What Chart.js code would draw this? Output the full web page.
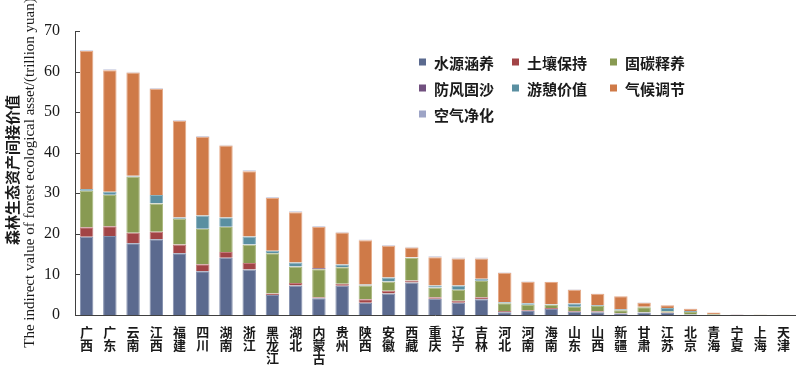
<!DOCTYPE html>
<html><head><meta charset="utf-8">
<script src="https://cdn.jsdelivr.net/npm/chart.js@4/dist/chart.umd.min.js"></script>
<style>html,body{margin:0;padding:0;background:#fff}</style>
</head><body>
<canvas id="c" width="800" height="370" style="width:800px;height:370px;display:block"></canvas>
<script>
const categories = ['广西','广东','云南','江西','福建','四川','湖南','浙江','黑龙江','湖北','内蒙古','贵州','陕西','安徽','西藏','重庆','辽宁','吉林','河北','河南','海南','山东','山西','新疆','甘肃','江苏','北京','青海','宁夏','上海','天津'];
const seriesNames = ['水源涵养','土壤保持','固碳释养','防风固沙','游憩价值','气候调节','空气净化'];
const water   = [19.3,19.5,17.7,18.7,15.2,10.8,14.1,11.2,4.9,7.3,4.1,7.2,3.0,5.3,8.0,4.0,3.0,3.9,0.7,1.0,1.5,0.8,0.7,0.4,0.6,0.5,0.1,0.05,0.03,0.02,0.02];
const soil    = [2.3,2.4,2.6,1.8,2.2,1.7,1.4,1.6,0.4,0.6,0.3,0.5,0.9,0.7,0.5,0.4,0.5,0.5,0.3,0.2,0.2,0.2,0.2,0.1,0.1,0.1,0.05,0.02,0.01,0.01,0.01];
const carbon  = [9.0,7.7,13.8,7.0,6.3,8.7,6.2,4.5,9.9,4.0,6.9,4.1,3.4,2.2,5.6,2.3,2.7,4.0,1.9,1.3,0.8,1.0,1.3,0.7,1.2,0.3,0.6,0.15,0.05,0.03,0.02];
const windSand= [0.05,0.05,0.05,0.05,0.05,0.05,0.05,0.05,0.05,0.05,0.3,0.05,0.1,0.05,0.05,0.05,0.05,0.05,0.02,0.02,0.02,0.02,0.02,0.1,0.05,0.02,0.02,0.02,0.01,0,0];
const tourism = [0.4,0.7,0.2,2.0,0.3,3.3,2.3,2.0,0.6,1.0,0.0,0.6,0.1,1.0,0.1,0.5,1.0,0.5,0.2,0.4,0.1,0.8,0.2,0.2,0.1,0.8,0.2,0.02,0.01,0.02,0.01];
const climate = [34.0,30.0,25.4,26.2,23.8,19.4,17.7,16.1,13.0,12.4,10.1,7.9,10.9,7.8,2.4,7.0,6.7,5.0,7.3,5.3,5.5,3.4,2.8,3.1,1.0,0.7,0.6,0.34,0.04,0.02,0.02];
const air     = [0.2,0.2,0.2,0.2,0.2,0.2,0.2,0.2,0.2,0.2,0.2,0.2,0.2,0.2,0.2,0.2,0.2,0.2,0.1,0.1,0.1,0.1,0.1,0.1,0.1,0.05,0.05,0,0,0,0];
const yTicks = [0,10,20,30,40,50,60,70];
const yTitleZh = '森林生态资产间接价值';
const yTitleEn = 'The indirect value of forest ecological asset/(trillion yuan)';

const fills   = ['#5b6a8f','#a24446','#889a52','#71507f','#5a8fa1','#cf7a48','#9da4c6'];
const borders = ['#8490ae','#c27a7b','#aab87f','#9a80a6','#8bb2bf','#e6ab89','#c3c8de'];
const values = [water, soil, carbon, windSand, tourism, climate, air];

const datasets = seriesNames.map((n,i)=>({
  label:n, data:values[i], backgroundColor:fills[i], borderColor:borders[i],
  borderWidth:1, barPercentage:0.58, categoryPercentage:1.0, stack:'s'
}));

const extras = {
  id:'extras',
  afterDraw(chart){
    const ctx = chart.ctx;
    const ys = chart.scales.y;
    const area = chart.chartArea;
    ctx.save();
    ctx.strokeStyle = '#404040'; ctx.lineWidth = 1;
    yTicks.forEach(v=>{
      const y = Math.round(ys.getPixelForValue(v))+0.5;
      ctx.beginPath(); ctx.moveTo(area.left, y); ctx.lineTo(area.left+5, y); ctx.stroke();
    });
    const colX = [419,512,610], rowY = [62,88,114];
    ctx.font = 'bold 15px "Noto Sans CJK SC"';
    ctx.textBaseline = 'middle'; ctx.textAlign = 'left';
    chart.data.datasets.forEach((ds,i)=>{
      const x = colX[i%3], y = rowY[Math.floor(i/3)];
      ctx.fillStyle = ds.backgroundColor;
      ctx.fillRect(x, y-3.5, 7, 7);
      ctx.fillStyle = '#1a1a1a';
      ctx.fillText(ds.label, x+15, y+1);
    });
    const cy = 170;
    ctx.save();
    ctx.translate(12, cy); ctx.rotate(-Math.PI/2);
    ctx.textAlign='center'; ctx.textBaseline='middle';
    ctx.font = 'bold 15px "Noto Sans CJK SC"'; ctx.fillStyle='#1a1a1a';
    ctx.fillText(yTitleZh, 0, 0);
    ctx.restore();
    ctx.save();
    ctx.translate(30, cy+3); ctx.rotate(-Math.PI/2);
    ctx.textAlign='center'; ctx.textBaseline='middle';
    ctx.font = '15px "Liberation Serif"'; ctx.fillStyle='#1a1a1a';
    ctx.fillText(yTitleEn, 0, 0);
    ctx.restore();
    ctx.restore();
  }
};

new Chart(document.getElementById('c'), {
  type:'bar',
  data:{ labels: categories.map(c=>c.split('')), datasets },
  options:{
    responsive:false, animation:false,
    layout:{ padding:{ top:31, right:2, left:0, bottom:0 } },
    plugins:{ legend:{display:false}, tooltip:{enabled:false} },
    scales:{
      x:{ stacked:true,
          grid:{ display:false, drawTicks:false },
          border:{ display:true, color:'#404040', width:1 },
          ticks:{ maxRotation:0, minRotation:0, autoSkip:false, padding:10, color:'#1a1a1a',
                  font:{ family:'"Noto Sans CJK SC"', size:13, weight:'bold', lineHeight:1.03 } },
          afterFit(s){ s.height = 55; } },
      y:{ stacked:true, min:0, max:70,
          afterBuildTicks(s){ s.ticks = yTicks.map(v=>({value:v})); },
          grid:{ display:false, drawTicks:false },
          border:{ display:true, color:'#404040', width:1 },
          ticks:{ padding:15, color:'#1a1a1a', font:{ family:'"Liberation Serif"', size:16 } },
          afterFit(s){ s.width = 75; } }
    }
  },
  plugins:[extras]
});
</script>
</body></html>
